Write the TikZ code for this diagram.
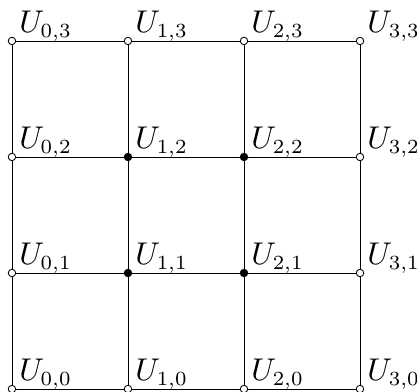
\documentclass[tikz,border=0pt]{standalone}
\usepackage{amsmath,amssymb}
\usepackage{tikz}
\usetikzlibrary{positioning}

\begin{document}
\begin{tikzpicture}[x=1.42cm, y=1.42cm, line width=0.3pt,
  bd/.style={circle,draw,fill=white,inner sep=0pt,minimum size=2.6pt},
  ip/.style={circle,draw,fill=black,inner sep=0pt,minimum size=2.6pt},
  lbl/.style={anchor=base west,inner sep=0pt,xshift=2.4pt,yshift=2.8pt,
    font=\fontsize{10.5}{12.5}\selectfont}]
  \useasboundingbox (-0.103,-0.017) rectangle (3.491,3.353);
  % boundary and inner points
  \foreach \i/\j in {0/0,1/0,2/0,3/0,0/1,3/1,0/2,3/2,0/3,1/3,2/3,3/3}
    \node[bd] (u\i\j) at (\i,\j) {};
  \foreach \i/\j in {1/1,2/1,1/2,2/2}
    \node[ip] (u\i\j) at (\i,\j) {};
  % grid lines
  \foreach \i in {0,...,3}
    \foreach \j/\k in {0/1,1/2,2/3}{
      \draw (u\i\j) -- (u\i\k);
      \draw (u\j\i) -- (u\k\i);
    }
  % labels
  \foreach \i in {0,...,3}
    \foreach \j in {0,...,3}
      \node[lbl] (l\i\j) at (u\i\j.center) {$U_{\i,\j}$};
\end{tikzpicture}
\end{document}
